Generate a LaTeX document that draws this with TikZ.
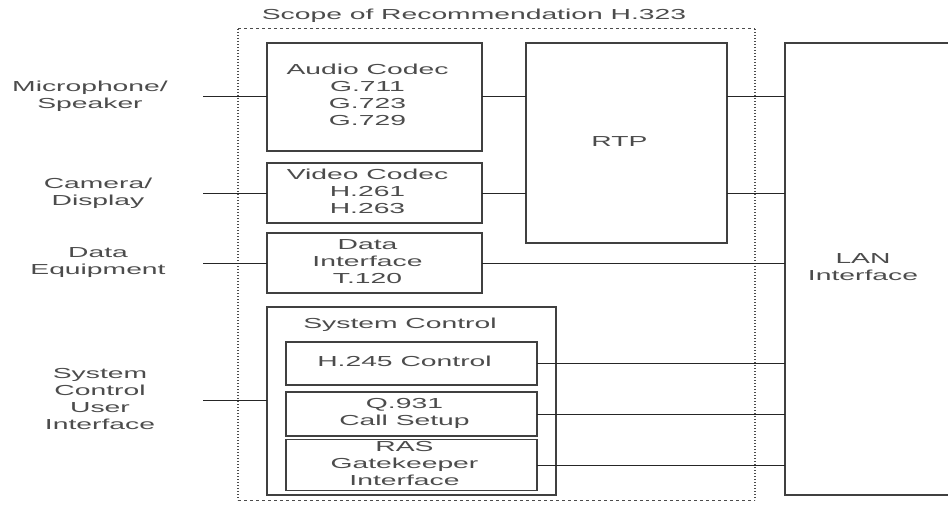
\documentclass[tikz,border=0pt]{standalone}
\usepackage{fontspec}
\setmainfont{Liberation Sans}
\usepackage{graphicx}
\newcommand{\boxtxt}[1]{\scalebox{1.95}[1]{\begin{tabular}{@{}c@{}}#1\end{tabular}}\hspace*{14pt}}
\newcommand{\freetxt}[1]{\scalebox{1.95}[1]{\begin{tabular}{@{}c@{}}#1\end{tabular}}}
\tikzset{
  blk/.style={draw=black!75, line width=1.6pt, rectangle, inner sep=0pt, outer sep=0pt, text=black!70},
  lbl/.style={inner sep=0pt, text=black!70},
  conn/.style={draw=black!85, line width=0.9pt},
  scopeh/.style={draw=black!70, line width=1pt, dash pattern=on 2.5pt off 3.5pt},
  scopev/.style={draw=black!70, line width=1.2pt, dash pattern=on 1pt off 2pt},
}
\begin{document}
\begin{tikzpicture}[x=1pt, y=-1pt, font=\fontsize{14.5}{17}\selectfont]
\useasboundingbox (0,0) rectangle (948,508);
\fill[white] (0,0) rectangle (948,508);

% scope
\coordinate (sTL) at (238,29);
\coordinate (sBR) at (755,500);
\draw[scopeh] (sTL) -- (sTL -| sBR);
\draw[scopeh] (sTL |- sBR) -- (sBR);
\draw[scopev] (sTL) -- (sTL |- sBR);
\draw[scopev] (sTL -| sBR) -- (sBR);
\node[lbl] (title) at (474,16) {\freetxt{Scope of Recommendation H.323}};

% boxes
\node[blk, minimum width=215pt, minimum height=108pt] (audio) at (374.5,97) {\boxtxt{Audio Codec\\G.711\\G.723\\G.729}};
\node[blk, minimum width=215pt, minimum height=60pt] (video) at (374.5,193) {\boxtxt{Video Codec\\H.261\\H.263}};
\node[blk, minimum width=215pt, minimum height=60pt] (data) at (374.5,263) {\boxtxt{Data\\Interface\\T.120}};
\node[blk, minimum width=201pt, minimum height=200pt] (rtp) at (626.5,143) {\boxtxt{RTP}};
\node[blk, minimum width=170pt, minimum height=452pt] (lan) at (870,269) {\boxtxt{LAN\\Interface}};
\node[blk, minimum width=289pt, minimum height=188pt] (sys) at (411.5,401) {};
\node[lbl] (syslbl) at (400,325) {\freetxt{System Control}};
\node[blk, minimum width=251pt, minimum height=43pt] (h245) at (411.5,363.5) {\boxtxt{H.245 Control}};
\node[blk, minimum width=251pt, minimum height=44pt] (q931) at (411.5,414) {\boxtxt{Q.931\\Call Setup}};
\node[blk, minimum width=251pt, minimum height=44pt] (ras) at (411.5,465) {\boxtxt{RAS\\Gatekeeper\\Interface}};

% left labels
\node[lbl] (mic) at (90,96.5) {\freetxt{Microphone/\\Speaker}};
\node[lbl] (cam) at (98,193.5) {\freetxt{Camera/\\Display}};
\node[lbl] (deq) at (98,263) {\freetxt{Data\\Equipment}};
\node[lbl] (sui) at (100,401) {\freetxt{System\\Control\\User\\Interface}};

\coordinate (m1) at (203,96);
\coordinate (m2) at (203,193);
\coordinate (m3) at (203,263);
\coordinate (m4) at (203,400);

% connectors
\draw[conn] (m1) -- (m1 -| audio.west);
\draw[conn] (m2) -- (m2 -| video.west);
\draw[conn] (m3) -- (m3 -| data.west);
\draw[conn] (m4) -- (m4 -| sys.west);
\draw[conn] (m1 -| audio.east) -- (m1 -| rtp.west);
\draw[conn] (m2 -| video.east) -- (m2 -| rtp.west);
\draw[conn] (m1 -| rtp.east) -- (m1 -| lan.west);
\draw[conn] (m2 -| rtp.east) -- (m2 -| lan.west);
\draw[conn] (data.east) -- (data.east -| lan.west);
\draw[conn] (h245.east) -- (h245.east -| lan.west);
\draw[conn] (q931.east) -- (q931.east -| lan.west);
\draw[conn] (ras.east) -- (ras.east -| lan.west);
\end{tikzpicture}
\end{document}
